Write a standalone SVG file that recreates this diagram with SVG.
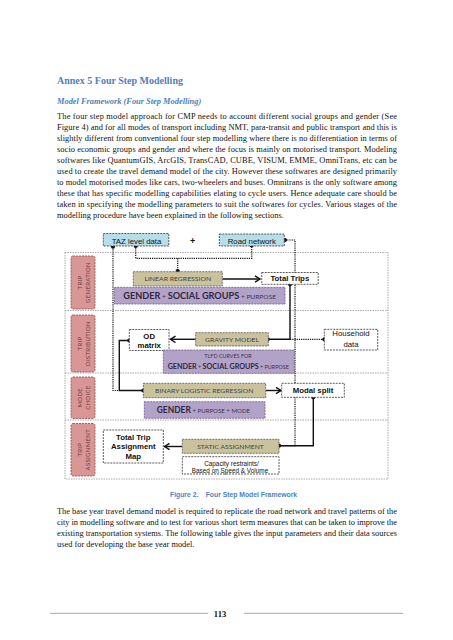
<svg xmlns="http://www.w3.org/2000/svg" width="453" height="640" viewBox="0 0 453 640">
<defs>
<style>
.body{font-family:"Liberation Serif","Times New Roman",serif;font-size:8.4px;fill:#111}
.h1{font-family:"Liberation Serif",serif;font-size:10px;font-weight:bold;fill:#4F81BD}
.h2{font-family:"Liberation Serif",serif;font-size:8.4px;font-weight:bold;font-style:italic;fill:#4F81BD}
.cap{font-family:"Liberation Sans",Arial,sans-serif;font-size:6.8px;font-weight:bold;fill:#4F81BD}
.ar{font-family:"Liberation Sans",Arial,sans-serif;font-size:7.8px;fill:#111}
.arb{font-family:"Liberation Sans",Arial,sans-serif;font-size:7.8px;font-weight:bold;fill:#111}
.sm{font-family:"Liberation Sans",Arial,sans-serif;font-size:6.4px;fill:#111}
.lab{font-family:Lato,"Liberation Sans",sans-serif;font-size:6.2px;fill:#444}
.stg{font-family:Lato,"Liberation Sans",sans-serif;font-size:6px;fill:#6a4040;letter-spacing:0.3px}
.pb{font-family:Lato,"Liberation Sans",sans-serif;font-weight:bold;fill:#2e2840}
.pr{font-family:Lato,"Liberation Sans",sans-serif;fill:#3a3350}
.blue{fill:#B7DEE8;stroke:#333;stroke-width:0.8;stroke-dasharray:2,1}
.tan{fill:#C9C29D;stroke:#555;stroke-width:0.8;stroke-dasharray:2,1}
.pur{fill:#B3A2C7;stroke:#6a5a8a;stroke-width:0.8;stroke-dasharray:2,1}
.pink{fill:#DA9694;stroke:#8a4a4a;stroke-width:0.8;stroke-dasharray:2,1}
.wht{fill:#fff;stroke:#333;stroke-width:0.8;stroke-dasharray:2,1}
.frame{fill:none;stroke:#888;stroke-width:0.7;stroke-dasharray:1.5,1}
.dot{fill:none;stroke:#111;stroke-width:1.2;stroke-dasharray:1.2,1}
.sol{fill:none;stroke:#111;stroke-width:1.4}
.foot{stroke:#7a96ad;stroke-width:0.8}
</style>
<marker id="arr" markerUnits="userSpaceOnUse" markerWidth="9" markerHeight="9" refX="6" refY="4" orient="auto">
<path d="M1,0.8 L6,4 L1,7.2" fill="none" stroke="#111" stroke-width="1.4"/>
</marker>
</defs>
<rect width="453" height="640" fill="#fff"/>

<text class="h1" x="57" y="84">Annex 5 Four Step Modelling</text>
<text class="h2" x="57" y="103.5">Model Framework (Four Step Modelling)</text>

<g id="para1">
<text class="body" x="57" y="119" textLength="340" lengthAdjust="spacing">The four step model approach for CMP needs to account different social groups and gender (See</text>
<text class="body" x="57" y="130" textLength="340" lengthAdjust="spacing">Figure 4) and for all modes of transport including NMT, para-transit and public transport and this is</text>
<text class="body" x="57" y="141" textLength="340" lengthAdjust="spacing">slightly different from conventional four step modelling where there is no differentiation in terms of</text>
<text class="body" x="57" y="152" textLength="340" lengthAdjust="spacing">socio economic groups and gender and where the focus is mainly on motorised transport. Modeling</text>
<text class="body" x="57" y="163" textLength="340" lengthAdjust="spacing">softwares like QuantumGIS, ArcGIS, TransCAD, CUBE, VISUM, EMME, OmniTrans, etc can be</text>
<text class="body" x="57" y="174" textLength="340" lengthAdjust="spacing">used to create the travel demand model of the city.  However these softwares are designed primarily</text>
<text class="body" x="57" y="185" textLength="340" lengthAdjust="spacing">to model motorised modes like cars, two-wheelers and buses. Omnitrans is the only software among</text>
<text class="body" x="57" y="196" textLength="340" lengthAdjust="spacing">these that has specific modelling capabilities elating to cycle users. Hence adequate care should be</text>
<text class="body" x="57" y="207" textLength="340" lengthAdjust="spacing">taken in specifying the modelling parameters to suit the softwares for cycles. Various stages of the</text>
<text class="body" x="57" y="218">modelling procedure have been explained in the following sections.</text>
</g>

<g id="frame">
<rect class="frame" x="65" y="252.5" width="323" height="226.5"/>
<line class="frame" x1="65" y1="310.5" x2="388" y2="310.5"/>
<line class="frame" x1="65" y1="373" x2="388" y2="373"/>
<line class="frame" x1="65" y1="420" x2="388" y2="420"/>
</g>

<g id="stage-generation">
<rect class="pink" x="71" y="256" width="24" height="53" rx="2"/>
<text class="stg" transform="translate(82.2,282.5) rotate(-90)" text-anchor="middle">TRIP</text>
<text class="stg" transform="translate(90.2,282.5) rotate(-90)" text-anchor="middle">GENERATION</text>
</g>
<g id="stage-distribution">
<rect class="pink" x="71" y="315" width="24" height="57" rx="2"/>
<text class="stg" transform="translate(82.2,343.5) rotate(-90)" text-anchor="middle">TRIP</text>
<text class="stg" transform="translate(90.2,343.5) rotate(-90)" text-anchor="middle">DISTRIBUTION</text>
</g>
<g id="stage-mode">
<rect class="pink" x="71" y="377" width="24" height="41.5" rx="2"/>
<text class="stg" transform="translate(82.2,397.7) rotate(-90)" text-anchor="middle">MODE</text>
<text class="stg" transform="translate(90.2,397.7) rotate(-90)" text-anchor="middle">CHOICE</text>
</g>
<g id="stage-assignment">
<rect class="pink" x="71" y="423.5" width="24" height="52.5" rx="2"/>
<text class="stg" transform="translate(82.2,449.7) rotate(-90)" text-anchor="middle">TRIP</text>
<text class="stg" transform="translate(90.2,449.7) rotate(-90)" text-anchor="middle">ASSIGNMENT</text>
</g>

<g id="connectors">
<path class="dot" d="M135.7,246 V258.3 H251.7 V245"/>
<path class="dot" d="M177.7,258.3 V271"/>
<path class="dot" d="M113,247 V390.5 H143"/>
<path class="dot" d="M285,240 H295 V445.7 H279"/>
<path class="dot" d="M324.3,339.3 H290"/>
<path class="sol" d="M290,284.3 V339.3 H267.7"/>
<path class="sol" d="M129.3,340.5 H119.3 V390.5 H143.3"/>
<path class="sol" d="M313.3,397.3 V445.7 H279"/>
<path class="sol" d="M222.3,279 H260" marker-end="url(#arr)"/>
<path class="sol" d="M195.7,339.3 H170.5" marker-end="url(#arr)"/>
<path class="sol" d="M265.7,390.5 H281" marker-end="url(#arr)"/>
<path class="sol" d="M182.3,446.5 H164.5" marker-end="url(#arr)"/>
<g fill="#111">
<circle cx="113" cy="246.7" r="2.1"/>
<circle cx="135.7" cy="246" r="2.1"/>
<circle cx="251.7" cy="245.5" r="2.1"/>
<circle cx="285" cy="240" r="2.1"/>
<circle cx="177.7" cy="271" r="2.1"/>
<circle cx="290" cy="284.3" r="2.1"/>
<circle cx="267.7" cy="339.3" r="2.1"/>
<circle cx="324.3" cy="339.3" r="2.1"/>
<circle cx="129.3" cy="340.5" r="2.1"/>
<circle cx="143.3" cy="390.5" r="2.1"/>
<circle cx="313.3" cy="397.3" r="2.1"/>
<circle cx="279" cy="445.7" r="2.1"/>
</g>
</g>

<g id="taz">
<rect class="blue" x="103.3" y="233.5" width="65.5" height="12.5"/>
<text class="ar" x="136.5" y="243.5" text-anchor="middle">TAZ level data</text>
</g>
<g id="plus">
<text class="arb" x="192.7" y="244" text-anchor="middle" style="font-size:9px">+</text>
</g>
<g id="road">
<rect class="blue" x="219.3" y="234" width="65" height="12"/>
<text class="ar" x="251.8" y="243.8" text-anchor="middle">Road network</text>
</g>

<g id="linear">
<rect class="tan" x="133.3" y="271.7" width="89" height="14.3"/>
<text class="lab" x="177.8" y="281.3" text-anchor="middle" textLength="66.7" lengthAdjust="spacingAndGlyphs">LINEAR REGRESSION</text>
</g>
<g id="totaltrips">
<rect class="wht" x="261.7" y="272.5" width="56.5" height="11.8"/>
<text class="arb" x="289.8" y="281.3" text-anchor="middle">Total Trips</text>
</g>
<g id="gsp1">
<rect class="pur" x="114.3" y="287.3" width="170.7" height="16.7"/>
<text x="199.7" y="299.3" text-anchor="middle" textLength="152.7" lengthAdjust="spacingAndGlyphs"><tspan class="pb" style="font-size:9px">GENDER</tspan><tspan class="pr" style="font-size:6.5px"> + </tspan><tspan class="pb" style="font-size:9px">SOCIAL GROUPS</tspan><tspan class="pr" style="font-size:6.5px"> + PURPOSE</tspan></text>
</g>

<g id="od">
<rect class="wht" x="129.3" y="329.5" width="39.7" height="21"/>
<text class="arb" x="149.2" y="338.8" text-anchor="middle">OD</text>
<text class="arb" x="149.2" y="348.3" text-anchor="middle" style="font-weight:600">matrix</text>
</g>
<g id="gravity">
<rect class="tan" x="195.7" y="332.7" width="72.6" height="13.3"/>
<text class="lab" x="232" y="341.6" text-anchor="middle" textLength="54" lengthAdjust="spacingAndGlyphs">GRAVITY MODEL</text>
</g>
<g id="household">
<rect class="wht" x="324.3" y="329.3" width="53.4" height="20.7"/>
<text class="ar" x="351" y="336.2" text-anchor="middle">Household</text>
<text class="ar" x="351" y="346.8" text-anchor="middle">data</text>
</g>
<g id="tlfd">
<rect class="pur" x="163.3" y="350" width="131" height="23.3"/>
<text class="pr" x="228" y="358" text-anchor="middle" style="font-size:5.2px" textLength="47.3" lengthAdjust="spacingAndGlyphs">TLFD CURVES  FOR</text>
<text x="228.3" y="368.6" text-anchor="middle" textLength="121.3" lengthAdjust="spacingAndGlyphs"><tspan class="pb" style="font-size:7.4px">GENDER</tspan><tspan class="pr" style="font-size:5.6px"> + </tspan><tspan class="pb" style="font-size:7.4px">SOCIAL GROUPS</tspan><tspan class="pr" style="font-size:5.6px"> + PURPOSE</tspan></text>
</g>

<g id="binary">
<rect class="tan" x="143.3" y="383.3" width="122.4" height="14.4"/>
<text class="lab" x="204.2" y="392.8" text-anchor="middle" textLength="98.3" lengthAdjust="spacingAndGlyphs">BINARY LOGISTIC  REGRESSION</text>
</g>
<g id="modalsplit">
<rect class="wht" x="281.7" y="383.3" width="62.6" height="14"/>
<text class="arb" x="313" y="393.2" text-anchor="middle">Modal split</text>
</g>
<g id="gpm">
<rect class="pur" x="144.3" y="401.7" width="120.7" height="16.6"/>
<text x="203.4" y="413" text-anchor="middle" textLength="93.3" lengthAdjust="spacingAndGlyphs"><tspan class="pb" style="font-size:8.6px">GENDER</tspan><tspan class="pr" style="font-size:6.2px"> + PURPOSE + MODE</tspan></text>
</g>

<g id="assignmap">
<rect class="wht" x="103.3" y="430" width="60" height="33"/>
<text class="arb" x="133.3" y="439.8" text-anchor="middle">Total Trip</text>
<text class="arb" x="133.3" y="449.1" text-anchor="middle">Assignment</text>
<text class="arb" x="133.3" y="458.5" text-anchor="middle">Map</text>
</g>
<g id="static">
<rect class="tan" x="182.3" y="439.3" width="96.7" height="14"/>
<text class="lab" x="230.5" y="448.9" text-anchor="middle" textLength="66.7" lengthAdjust="spacingAndGlyphs">STATIC ASSIGNMENT</text>
</g>
<g id="capacity">
<rect class="wht" x="182.3" y="456.7" width="96.7" height="17.3"/>
<text class="sm" x="231.5" y="465.6" text-anchor="middle">Capacity restraints/</text>
<text class="sm" x="230" y="473" text-anchor="middle">Based on Speed &amp; Volume</text>
</g>

<text class="cap" x="170" y="497.4">Figure 2.</text>
<text class="cap" x="205.7" y="497.4">Four Step Model Framework</text>

<g id="para2">
<text class="body" x="57" y="514" textLength="340" lengthAdjust="spacing">The base year travel demand model is required to replicate the road network and travel patterns of the</text>
<text class="body" x="57" y="525" textLength="340" lengthAdjust="spacing">city in modelling software and to test for various short term measures that can be taken to improve the</text>
<text class="body" x="57" y="536" textLength="340" lengthAdjust="spacing">existing transportation systems. The following table gives the input parameters and their data sources</text>
<text class="body" x="57" y="547">used for developing the base year model.</text>
</g>

<g id="footer">
<line class="foot" x1="50" y1="613.3" x2="208" y2="613.3"/>
<line class="foot" x1="244" y1="613.3" x2="403" y2="613.3"/>
<text class="body" x="220" y="617" text-anchor="middle" style="font-weight:bold;font-size:8.5px">113</text>
</g>
</svg>
